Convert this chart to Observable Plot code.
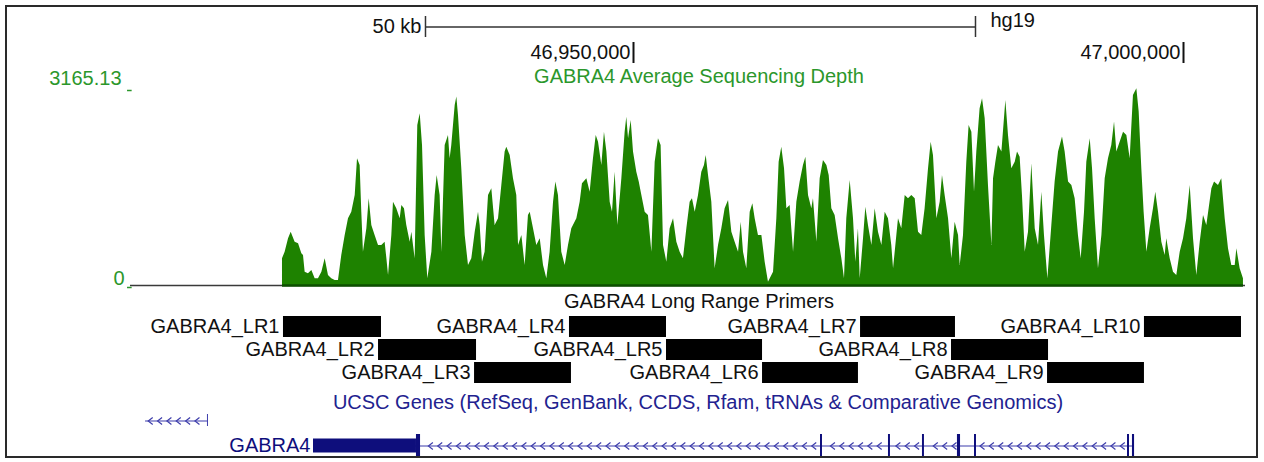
<!DOCTYPE html>
<html><head><meta charset="utf-8">
<script src="https://cdn.jsdelivr.net/npm/d3@7"></script>
<script src="https://cdn.jsdelivr.net/npm/@observablehq/plot@0.6"></script>
<style>
html,body{margin:0;padding:0;background:#fff;}
#wrap{position:relative;width:1264px;height:462px;overflow:hidden;font-family:"Liberation Sans",Arial,sans-serif;}
#wrap svg{position:absolute;left:0;top:0;}
.frame{position:absolute;left:5px;top:5px;width:1253px;height:453px;box-sizing:border-box;border:2px solid #2a2a2a;pointer-events:none;}
.lbl{position:absolute;font-size:20px;line-height:20px;white-space:nowrap;transform:translateX(-50%);}
</style></head><body>
<div id="wrap"></div>
<script>
// ---------- data (positions in kb on chr4, hg19) ----------
const viewKb = [46904.273, 47005.636];
const scaleBarStartKb = 46931.09;
const scaleBarKb = 50;
const assembly = "hg19";
const coordTicksKb = [46950, 47000];

const depthMax = 3165.13;
const depthLabels = ["3165.13", "0"];
const depthTitle = "GABRA4 Average Sequencing Depth";

const covKb = [
46918.09,46918.33,46918.64,46918.88,46919.24,46919.55,46919.85,46920.00,46920.15,46920.45,46920.76,46921.06,46921.36,46921.67,46921.97,46922.27,46922.57,46922.88,46923.18,46923.48,46923.79,46924.09,46924.39,46924.70,46924.91,46925.15,46925.30,46925.45,46925.76,46925.97,46926.21,46926.51,46926.82,46927.12,46927.42,46927.58,46927.73,46928.03,46928.18,46928.48,46928.79,46928.94,46929.18,46929.39,46929.70,46929.85,46930.15,46930.39,46930.61,46930.82,46931.06,46931.30,46931.67,46931.97,46932.15,46932.42,46932.58,46932.88,46933.18,46933.33,46933.48,46933.79,46933.94,46934.09,46934.39,46934.70,46935.00,46935.30,46935.61,46935.91,46936.06,46936.27,46936.51,46936.82,46937.12,46937.42,46937.73,46938.03,46938.33,46938.48,46938.79,46939.09,46939.39,
46939.55,46939.85,46940.15,46940.45,46940.61,46940.91,46941.21,46941.52,46941.82,46942.12,46942.42,46942.73,46942.94,46943.18,46943.48,46943.79,46944.09,46944.39,46944.85,46945.15,46945.36,46945.76,46946.06,46946.36,46946.61,46946.82,46947.12,46947.36,46947.58,46947.88,46948.09,46948.33,46948.58,46948.94,46949.24,46949.39,46949.55,46949.79,46950.00,46950.30,46950.52,46950.76,46951.06,46951.36,46951.67,46951.97,46952.27,46952.51,46952.73,46953.03,46953.33,46953.64,46953.94,46954.24,46954.54,46954.85,46955.15,46955.36,46955.61,46955.91,46956.21,46956.45,46956.61,46956.82,46957.12,46957.42,46957.73,46958.03,46958.33,46958.64,46958.94,46959.24,46959.55,46959.79,46960.00,46960.30,46960.61,46960.85,46961.06,46961.36,
46961.67,46961.97,46962.27,46962.73,46963.03,46963.24,46963.48,46963.73,46963.94,46964.24,46964.39,46964.55,46964.85,46965.15,46965.45,46965.67,46965.91,46966.21,46966.36,46966.67,46966.97,46967.27,46967.58,46967.79,46968.03,46968.33,46968.64,46968.94,46969.18,46969.39,46969.70,46970.00,46970.21,46970.45,46970.61,46970.91,46971.12,46971.36,46971.67,46971.97,46972.27,46972.58,46972.88,46973.18,46973.48,46973.64,46973.94,46974.09,46974.39,46974.70,46975.00,46975.30,46975.61,46975.91,46976.21,46976.51,46976.82,46977.06,46977.27,46977.58,46977.88,46978.09,46978.33,46978.64,46978.94,46979.24,46979.55,46979.70,46980.00,46980.30,46980.51,46980.76,46981.00,46981.21,46981.51,46981.73,46981.97,46982.27,46982.58,46982.73,46982.94,46983.18,
46983.49,46983.85,46984.09,46984.39,46984.70,46984.91,46985.15,46985.36,46985.61,46985.91,46986.21,46986.52,46986.82,46987.12,46987.36,46987.67,46988.03,46988.33,46988.64,46989.00,46989.24,46989.55,46989.85,46990.15,46990.45,46990.70,46991.00,46991.21,46991.52,46991.73,46991.97,46992.27,46992.58,46992.88,46993.18,46993.48,46993.73,46993.94,46994.24,46994.55,46994.85,46995.15,46995.45,46995.76,46995.97,46996.21,46996.42,46996.67,46996.97,46997.27,46997.48,46997.73,46998.03,46998.33,46998.48,46998.79,46999.09,46999.39,46999.70,47000.00,47000.30,47000.61,47000.91,47001.21,47001.52,47001.82,47002.12,47002.58,47002.82,47003.18,47003.48,47003.79,47004.09,47004.39,47004.70,47004.85,47005.15,47005.45
];
const covDepth = [
428,536,750,857,696,669,509,482,214,187,241,107,107,214,428,161,107,80,80,482,803,1071,1178,1446,2035,1928,1178,536,910,1393,964,803,643,643,696,428,161,803,1339,1232,1071,1285,1232,964,696,857,428,2571,2759,2250,803,107,536,1446,1768,1446,536,2250,2410,2035,2250,2893,3027,2732,1875,803,321,428,857,1178,964,375,536,1446,1553,964,1071,1607,2143,2223,2089,1714,1446,
643,803,321,1125,1178,910,643,750,321,107,536,1339,1661,1446,536,321,643,910,1071,1339,1634,1714,1500,2035,2410,2303,1928,2464,2143,1339,1178,1821,964,1714,2464,2705,2357,2651,2143,1821,1661,1446,1178,1125,536,1982,2357,2250,643,375,910,1071,696,536,428,910,1339,1393,1178,1446,1821,1928,2089,1768,1339,268,643,910,1232,1366,857,696,536,1018,536,268,1178,1312,1071,803,
803,375,54,214,1071,1982,2223,1875,1232,1285,910,536,1339,1661,1928,2062,1446,1232,1393,696,1714,2009,1928,1768,1232,1125,750,428,107,1071,1687,1071,375,910,107,750,1259,964,643,1232,857,643,1178,1071,643,268,803,1071,910,1446,1393,1446,1393,857,803,1232,1875,2303,2089,1071,1339,1768,1446,1071,428,1018,803,321,803,1982,2571,2464,1500,2143,2839,3000,2678,1607,643,1714,1982,2250,
2143,2973,2410,1875,1982,2143,2062,1446,536,857,1955,910,643,1500,803,107,964,1661,2143,2384,2143,1661,1607,1393,803,428,1178,1982,2357,1875,1071,268,803,1714,2035,2250,2625,2143,2303,2464,2410,2035,3053,3160,2786,1875,1178,536,910,1232,1500,1178,696,482,750,428,214,161,536,750,1071,1607,750,161,696,1125,964,1553,1661,1607,1714,1071,589,321,321,589,268,107
];

const primerTitle = "GABRA4 Long Range Primers";
const primerNames = ["GABRA4_LR1","GABRA4_LR2","GABRA4_LR3","GABRA4_LR4","GABRA4_LR5","GABRA4_LR6","GABRA4_LR7","GABRA4_LR8","GABRA4_LR9","GABRA4_LR10"];
const primerStartKb = [46918.18,46926.82,46935.55,46944.18,46953.00,46961.73,46970.64,46978.91,46987.64,46996.45];
const primerEndKb   = [46927.09,46935.73,46944.36,46953.00,46961.73,46970.45,46979.27,46987.73,46996.45,47005.27];
const primerRow     = [1,2,3,1,2,3,1,2,3,1];

const geneTitle = "UCSC Genes (RefSeq, GenBank, CCDS, Rfam, tRNAs & Comparative Genomics)";
const geneNames   = ["upstream", "GABRA4"];
const geneLabel   = ["", "GABRA4"];
const geneStartKb = [46905.64, 46920.91];
const geneEndKb   = [46911.36, 46995.55];
const utrGene  = ["upstream", "GABRA4"];
const utrStart = [46911.27, 46920.91];
const utrEnd   = [46911.36, 46930.27];
const exonGene  = ["GABRA4","GABRA4","GABRA4","GABRA4","GABRA4","GABRA4","GABRA4","GABRA4"];
const exonStart = [46930.27,46967.00,46973.18,46976.27,46979.45,46981.00,46994.91,46995.36];
const exonEnd   = [46930.64,46967.18,46973.36,46976.45,46979.73,46981.18,46995.09,46995.55];

// ---------- build ----------
const W = 1264, H = 462;
const FONT = '"Liberation Sans", Arial, sans-serif';
const GREEN = "#1e8200", GREEN_TXT = "#2b972b", NAVY = "#0e0e7c", BLUE = "#3d3dab";
const xOpt = {domain: viewKb, range: [130, 1245], axis: null};
const style = {background: "transparent", fontFamily: FONT, overflow: "visible"};
const wrap = document.getElementById("wrap");

// ruler
const sbEnd = scaleBarStartKb + scaleBarKb;
wrap.appendChild(Plot.plot({
  width: W, height: H, margin: 0, style,
  x: xOpt,
  y: {type: "band", domain: ["bar", "coord"], range: [14, 64], padding: 0, axis: null},
  marks: [
    Plot.ruleY(["bar"], {y: d => d, x1: scaleBarStartKb, x2: sbEnd, stroke: "#333", strokeWidth: 1.5}),
    Plot.tickX([scaleBarStartKb, sbEnd], {x: d => d, y: () => "bar", insetTop: 2, insetBottom: 2, stroke: "#333", strokeWidth: 1.5}),
    Plot.text([scaleBarStartKb], {x: d => d, y: () => "bar", text: () => `${scaleBarKb} kb`, textAnchor: "end", dx: -4, fill: "#111", fontSize: 20}),
    Plot.text([sbEnd], {x: d => d, y: () => "bar", text: () => assembly, textAnchor: "start", dx: 15, dy: -6, fill: "#111", fontSize: 20}),
    Plot.tickX(coordTicksKb, {x: d => d, y: () => "coord", insetTop: 3, insetBottom: 1, stroke: "#111", strokeWidth: 2}),
    Plot.text(coordTicksKb, {x: d => d, y: () => "coord", text: d => d3.format(",")(Math.round(d * 1000)), textAnchor: "end", dx: -3, dy: 1, fill: "#111", fontSize: 20})
  ]
}));

// coverage
const cov = covKb.map((k, i) => ({pos: k, depth: covDepth[i]}));
wrap.appendChild(Plot.plot({
  width: W, height: H, margin: 0, style,
  x: xOpt,
  y: {domain: [0, depthMax], range: [285, 88], axis: null},
  marks: [
    Plot.ruleY([0], {x1: viewKb[0], x2: viewKb[1], stroke: "#3a3a3a", strokeWidth: 1.5}),
    Plot.areaY(cov, {x: "pos", y: "depth", fill: GREEN, curve: "linear"}),
    Plot.ruleY([0], {x1: covKb[0], x2: covKb[covKb.length - 1], stroke: "#0d4f00", strokeWidth: 2.5}),
    Plot.text([depthMax], {x: viewKb[0], y: d => d, text: () => depthLabels[0], textAnchor: "end", dx: -9, dy: -10, fill: GREEN_TXT, fontSize: 20}),
    Plot.text([0], {x: viewKb[0], y: d => d, text: () => depthLabels[1], textAnchor: "end", dx: -6, dy: -7, fill: GREEN_TXT, fontSize: 20}),
    Plot.ruleY([depthMax, 0], {x1: viewKb[0] - 0.27, x2: viewKb[0] + 0.15, dy: 2, stroke: GREEN_TXT, strokeWidth: 1.5})
  ]
}));

// primers
const primers = primerNames.map((n, i) => ({name: n, start: primerStartKb[i], end: primerEndKb[i], row: primerRow[i]}));
wrap.appendChild(Plot.plot({
  width: W, height: H, margin: 0, style,
  x: xOpt,
  y: {type: "band", domain: [1, 2, 3], range: [312, 386], padding: 0.1, axis: null},
  marks: [
    Plot.barX(primers, {x1: "start", x2: "end", y: "row", fill: "#000"}),
    Plot.text(primers, {x: "start", y: "row", text: "name", textAnchor: "end", dx: -4, fill: "#111", fontSize: 20})
  ]
}));

// genes
const genes = geneNames.map((n, i) => ({row: n, label: geneLabel[i], start: geneStartKb[i], end: geneEndKb[i]}));
const utrs = utrGene.map((g, i) => ({row: g, start: utrStart[i], end: utrEnd[i]}));
const exons = exonGene.map((g, i) => ({row: g, start: exonStart[i], end: exonEnd[i]}));
const blocks = utrs.concat(exons);
const step = 0.85;
const chevrons = genes.flatMap(g => d3.range(g.start + step * 0.5, g.end, step)
  .filter(p => !blocks.some(b => b.row === g.row && p > b.start - 0.3 && p < b.end + 0.3))
  .map(p => ({row: g.row, pos: p})));
const chevron = {draw(ctx) { ctx.moveTo(2.5, -3.5); ctx.lineTo(-2, 0); ctx.lineTo(2.5, 3.5); }};
wrap.appendChild(Plot.plot({
  width: W, height: H, margin: 0, style,
  x: xOpt,
  y: {type: "band", domain: geneNames, range: [408, 458], padding: 0, axis: null},
  marks: [
    Plot.ruleY(genes, {y: "row", x1: "start", x2: "end", stroke: BLUE, strokeWidth: 1.2}),
    Plot.dot(chevrons, {x: "pos", y: "row", symbol: chevron, stroke: BLUE, fill: "none", strokeWidth: 1.2}),
    Plot.barX(utrs.filter(u => u.row === "upstream"), {x1: "start", x2: "end", y: "row", insetTop: 6, insetBottom: 7, fill: BLUE}),
    Plot.barX(utrs.filter(u => u.row !== "upstream"), {x1: "start", x2: "end", y: "row", insetTop: 5.5, insetBottom: 5.5, fill: NAVY}),
    Plot.barX(exons, {x1: "start", x2: "end", y: "row", insetTop: 1, insetBottom: 0, fill: NAVY}),
    Plot.text(genes.filter(g => g.label), {x: "start", y: "row", text: "label", textAnchor: "end", dx: -3, fill: NAVY, fontSize: 20})
  ]
}));

// track titles and frame
function label(text, cx, top, color) {
  const d = document.createElement("div");
  d.className = "lbl"; d.textContent = text;
  d.style.left = cx + "px"; d.style.top = top + "px"; d.style.color = color;
  wrap.appendChild(d);
}
label(depthTitle, 699, 66, GREEN_TXT);
label(primerTitle, 699, 291, "#111");
label(geneTitle, 698, 392, "#22228f");
const fr = document.createElement("div"); fr.className = "frame"; wrap.appendChild(fr);
</script></body></html>
